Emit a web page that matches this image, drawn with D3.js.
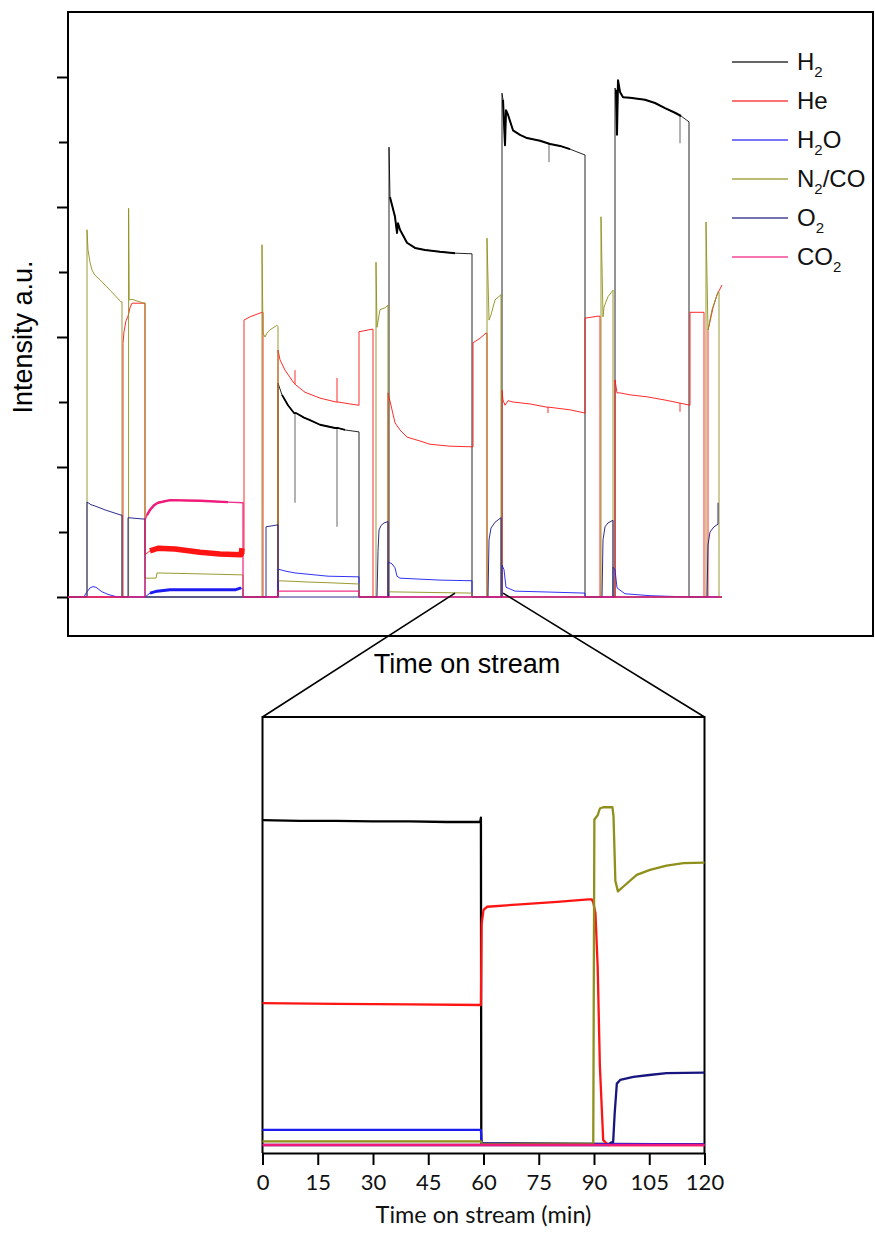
<!DOCTYPE html>
<html>
<head>
<meta charset="utf-8">
<script src="https://cdn.jsdelivr.net/npm/d3@7"></script>
<style>
  body { margin: 0; background: #fff; }
  svg { display: block; }
</style>
</head>
<body>
<svg id="chart" width="875" height="1253"></svg>
<script>
// ---- Full run: time on stream (min) vs. MS intensity (a.u.) ----
const seriesNames = ["H2", "He", "H2O", "N2/CO", "O2", "CO2"];

const h2Run = [[0,0],[525,0],[525,3.29],[535,3.11],[550,2.95],[565,2.83],[570,2.83],[590,2.76],[605,2.72],[630,2.65],[667.5,2.6],[675,2.6],[692.5,2.57],[727.5,2.54],[727.5,0],
  [802.5,0],[802.5,6.92],[805,6.15],[810,6.03],[817.5,5.85],[822.5,5.6],[825,5.75],[830,5.65],[847.5,5.45],[867.5,5.37],[892.5,5.34],[930,5.31],[967.5,5.29],[1010,5.28],[1010,0],
  [1085,0],[1085,7.75],[1087.5,7.65],[1092.5,6.95],[1095,7.49],[1100,7.42],[1112.5,7.18],[1130,7.11],[1147.5,7.06],[1180,7.02],[1205,6.97],[1230,6.94],[1255,6.89],[1292.5,6.8],[1292.5,0],
  [1367.5,0],[1367.5,7.83],[1370,7.8],[1372.5,7.11],[1375,7.95],[1380,7.77],[1387.5,7.69],[1405,7.68],[1442.5,7.65],[1467.5,7.6],[1492.5,7.52],[1517.5,7.45],[1532.5,7.4],[1552.5,7.31],[1552.5,0],[1635,0]];
// short excursions of the H2 trace: [time, value]
const h2Spikes = [[567.5,1.45],[672.5,1.08],[1202.5,6.69],[1530,6.98]];

const heRun = [[0,0],[137.5,0],[137.5,3.9],[140,4.08],[145,4.25],[150,4.32],[155,4.45],[160,4.52],[190,4.52],[192.5,4.52],[192.5,0.65],[205,0.71],[225,0.75],[267.5,0.74],[330,0.69],[380,0.66],[432.5,0.65],[435,0.75],[440,0.66],[440,4.26],[455,4.31],[485,4.38],[487.5,4.38],[487.5,0],
  [525,0],[525,3.8],[530,3.65],[542.5,3.49],[565,3.29],[570,3.26],[592.5,3.15],[630,3.06],[670,3.0],[675,3.0],[705,2.97],[727.5,2.95],[727.5,4.08],[760,4.12],[762.5,4.12],[762.5,0],
  [800,0],[800,3.14],[810,2.88],[817.5,2.68],[830,2.57],[847.5,2.46],[880,2.4],[905,2.35],[955,2.32],[1012.5,2.31],[1012.5,3.91],[1030,3.98],[1045,4.06],[1047.5,4.06],[1047.5,0],
  [1085,0],[1085,3.18],[1087.5,3.03],[1092.5,2.95],[1100,3.02],[1112.5,3.0],[1155,2.97],[1197.5,2.92],[1202.5,2.92],[1255,2.88],[1292.5,2.83],[1292.5,4.29],[1325,4.32],[1330,4.32],[1330,0],
  [1367.5,0],[1367.5,3.34],[1372.5,3.14],[1380,3.14],[1405,3.11],[1447.5,3.08],[1492.5,3.03],[1532.5,2.98],[1555,2.95],[1555,4.38],[1590,4.38],[1590,0],[1600,0],[1600,4.1],[1612.5,4.45],[1622.5,4.65],[1635,4.8]];
const heSpikes = [[567.5,3.49],[672.5,3.37],[1200,2.83],[1530,2.85]];

const h2oRun = [[0,0],[40,0],[45,0.06],[55,0.14],[62.5,0.16],[70,0.15],[85,0.08],[100,0.04],[117.5,0.01],[132.5,0],[192.5,0],[205,0.06],[222.5,0.09],[255,0.11],[330,0.11],[417.5,0.11],[432.5,0.14],[437.5,0.12],[437.5,0],
  [525,0],[525,0.43],[542.5,0.4],[567.5,0.37],[650,0.32],[727.5,0.31],[727.5,0],
  [800,0],[800,0.54],[810,0.51],[817.5,0.45],[822.5,0.32],[830,0.29],[862.5,0.28],[930,0.26],[1010,0.25],[1010,0],
  [1085,0],[1085,0.49],[1090,0.42],[1095,0.15],[1117.5,0.09],[1180,0.08],[1292.5,0.06],[1292.5,0],
  [1362.5,0],[1362.5,0.46],[1367.5,0.42],[1372.5,0.14],[1392.5,0.05],[1455,0.02],[1555,0],[1635,0]];

const n2coRun = [[0,0],[47.5,0],[47.5,5.65],[50,5.34],[55,5.15],[60,5.03],[67.5,4.95],[80,4.88],[105,4.72],[132.5,4.54],[135,4.54],[135,0],
  [151.5,0],[151.5,5.98],[153,4.57],[160,4.58],[175,4.55],[190,4.52],[192.5,4.52],[192.5,0.29],[220,0.29],[222.5,0.37],[300,0.36],[437.5,0.34],[437.5,0],
  [485,0],[485,5.42],[487.5,4.06],[492.5,4.0],[497.5,4.06],[505,4.11],[522.5,4.18],[525,4.16],[525,0.25],[567.5,0.24],[600,0.23],[650,0.22],[727.5,0.2],[727.5,0],
  [770,0],[770,5.15],[772.5,4.15],[780,4.42],[792.5,4.45],[800,4.49],[800,0.08],[1010,0.06],[1010,0],
  [1047.5,0],[1047.5,5.52],[1052.5,4.26],[1057.5,4.34],[1067.5,4.57],[1082.5,4.65],[1082.5,0],
  [1332.5,0],[1332.5,5.85],[1337.5,4.31],[1340,4.46],[1350,4.62],[1362.5,4.72],[1362.5,0],
  [1595,0],[1595,5.77],[1600,4.11],[1610,4.42],[1625,4.69],[1627.5,4.69],[1627.5,0],[1635,0]];

const o2Run = [[0,0],[47.5,0],[47.5,1.46],[57.5,1.42],[67.5,1.4],[92.5,1.34],[132.5,1.26],[135,1.26],[135,0],
  [150,0],[150,1.22],[187.5,1.2],[192.5,1.2],[192.5,0],
  [495,0],[495,1.08],[505,1.09],[525,1.11],[525,0],
  [772.5,0],[775,0.7],[777.5,1.03],[782.5,1.1],[790,1.14],[800,1.16],[800,0],
  [1050,0],[1052.5,0.88],[1057.5,1.06],[1067.5,1.15],[1082.5,1.22],[1082.5,0],
  [1335,0],[1337.5,0.88],[1342.5,1.08],[1350,1.14],[1362.5,1.18],[1362.5,0],
  [1597.5,0],[1600,0.8],[1605,1.0],[1615,1.08],[1625,1.12],[1625,1.45]];

const co2Run = [[0,0],[192.5,0],[192.5,1.18],[197.5,1.26],[205,1.34],[215,1.41],[225,1.45],[255,1.49],[330,1.48],[400,1.46],[437.5,1.45],[437.5,0],
  [525,0],[525,0.09],[727.5,0.09],[727.5,0],[1635,0]];

const runSeries = [h2Run, heRun, h2oRun, n2coRun, o2Run, co2Run];
const runSpikes = [[0, h2Spikes], [1, heSpikes]];

// ---- Detail window (min of run) and its 120 min recording ----
const zoomWindow = [967.5, 1087.5];
const detailTicks = [0, 15, 30, 45, 60, 75, 90, 105, 120];

const h2Detail = [[0,5.29],[10,5.28],[20,5.28],[30,5.27],[40,5.27],[50,5.26],[59.1,5.26],[59.3,5.33],[59.4,0.03],[120,0.01]];
const heDetail = [[0,2.31],[20,2.3],[40,2.29],[59.3,2.28],[59.5,3.6],[60,3.83],[61,3.88],[70,3.92],[80,3.96],[88.5,4.0],[89.4,4.0],[89.8,3.95],[90.4,3.77],[91.0,2.9],[91.6,1.28],[92.5,0.08],[93.9,0],[120,0]];
const h2oDetail = [[0,0.245],[59.3,0.245],[59.5,0.03],[70,0.02],[120,0.01]];
const n2coDetail = [[0,0.06],[59.3,0.06],[59.5,0.02],[89.8,0.02],[90.1,5.3],[91.0,5.37],[91.6,5.48],[92.5,5.5],[95.0,5.5],[95.3,5.35],[95.8,4.3],[96.5,4.13],[98,4.21],[101.6,4.4],[105.2,4.48],[109.7,4.55],[114.3,4.59],[120,4.6]];
const o2Detail = [[0,0],[94.0,0],[94.6,0.04],[95.2,0.05],[95.6,0.5],[96.2,1.0],[97.1,1.06],[100.7,1.11],[105,1.14],[109.7,1.17],[120,1.18]];
const co2Detail = [[0,0],[60,0],[120,0]];

const detailSeries = [h2Detail, heDetail, h2oDetail, n2coDetail, o2Detail, co2Detail];

// ---- Styling ----
const colors = ["#000000", "#ff1414", "#1c1cf0", "#8f8f1c", "#16167e", "#f01a7a"];
const runTicks = [0, 1, 2, 3, 4, 5, 6, 7, 8];
// stretches of the run recorded with a noisier (wider) trace
const wideTraces = [
  { s: 1, from: 195, to: 436, w: 5.5 },
  { s: 2, from: 195, to: 436, w: 3 },
  { s: 5, from: 195, to: 436, w: 2.4 },
  { s: 0, from: 526, to: 727, w: 1.8 },
  { s: 0, from: 804, to: 1009, w: 2 },
  { s: 0, from: 1086, to: 1291, w: 2 },
  { s: 0, from: 1368, to: 1551, w: 2 }
];

const svg = d3.select("#chart");
const sansFont = "'Liberation Sans', Arial, sans-serif";
const tickFont = "Lato, 'Open Sans', sans-serif";

// ---- Main panel ----
const xRun = d3.scaleLinear().domain([0, 2012.5]).range([68, 873]);
const yRun = d3.scaleLinear().domain([-0.6, 9.0]).range([636, 12]);
const runLine = d3.line().x(d => xRun(d[0])).y(d => yRun(d[1]));

const main = svg.append("g");
main.append("rect")
  .attr("x", xRun.range()[0]).attr("y", yRun.range()[1])
  .attr("width", xRun.range()[1] - xRun.range()[0])
  .attr("height", yRun.range()[0] - yRun.range()[1])
  .attr("fill", "none").attr("stroke", "#000").attr("stroke-width", 2);

const yAxis = main.append("g")
  .attr("transform", `translate(${xRun.range()[0]},0)`)
  .call(d3.axisLeft(yRun).tickValues(runTicks).tickFormat("").tickSizeOuter(0));
yAxis.select(".domain").remove();
yAxis.selectAll(".tick line")
  .attr("x2", d => d % 2 === 0 ? -11 : -9)
  .attr("stroke-width", 2);

runSeries.forEach((data, i) => {
  main.append("path").datum(data)
    .attr("d", runLine)
    .attr("fill", "none")
    .attr("stroke", colors[i])
    .attr("stroke-width", i === 5 ? 1.3 : 1)
    .attr("stroke-opacity", i === 0 ? 0.85 : 0.9)
    .attr("stroke-linejoin", "round");
});
wideTraces.forEach(t => {
  const part = runSeries[t.s].filter(d => d[0] >= t.from && d[0] <= t.to);
  main.append("path").datum(part)
    .attr("d", runLine)
    .attr("fill", "none")
    .attr("stroke", colors[t.s])
    .attr("stroke-width", t.w)
    .attr("stroke-linejoin", "round");
});

// thin excursions drawn from the trace level to the spike value
const bisect = d3.bisector(d => d[0]).left;
function traceAt(data, t) {
  const i = Math.max(1, Math.min(data.length - 1, bisect(data, t)));
  const a = data[i - 1], b = data[i];
  return b[0] === a[0] ? b[1] : a[1] + (b[1] - a[1]) * (t - a[0]) / (b[0] - a[0]);
}
runSpikes.forEach(([s, spikes]) => {
  main.selectAll(null).data(spikes).join("line")
    .attr("x1", d => xRun(d[0])).attr("x2", d => xRun(d[0]))
    .attr("y1", d => yRun(traceAt(runSeries[s], d[0])))
    .attr("y2", d => yRun(d[1]))
    .attr("stroke", colors[s])
    .attr("stroke-opacity", s === 0 ? 0.6 : 0.9)
    .attr("stroke-width", 1);
});

main.append("text")
  .attr("x", 467).attr("y", 673)
  .attr("text-anchor", "middle")
  .style("font-family", sansFont).style("font-size", "27px")
  .text("Time on stream");
main.append("text")
  .attr("transform", "translate(32,337) rotate(-90)")
  .attr("text-anchor", "middle")
  .style("font-family", sansFont).style("font-size", "27px")
  .text("Intensity a.u.");

// legend with subscripted formulas
const legendParts = [
  [["H", 0], ["2", 1]],
  [["He", 0]],
  [["H", 0], ["2", 1], ["O", 0]],
  [["N", 0], ["2", 1], ["/CO", 0]],
  [["O", 0], ["2", 1]],
  [["CO", 0], ["2", 1]]
];
const legend = main.append("g");
seriesNames.forEach((name, i) => {
  const ly = 62 + 39 * i;
  legend.append("line")
    .attr("x1", 732).attr("x2", 788).attr("y1", ly).attr("y2", ly)
    .attr("stroke", colors[i]).attr("stroke-width", 1.3).attr("stroke-opacity", 0.8);
  const t = legend.append("text")
    .attr("x", 797).attr("y", ly + 8)
    .style("font-family", sansFont).style("font-size", "24px")
    .attr("fill", "#111");
  let shifted = 0;
  legendParts[i].forEach(([str, sub]) => {
    const dy = sub ? 7 - shifted : -shifted;
    shifted = sub ? 7 : 0;
    t.append("tspan").attr("dy", dy).style("font-size", sub ? "15px" : "24px").text(str);
  });
});

// ---- Detail panel ----
const xDet = d3.scaleLinear().domain([0, 120]).range([262.5, 704.5]);
const yDet = d3.scaleLinear().domain([-0.13, 6.97]).range([1153, 717]);
const detLine = d3.line().x(d => xDet(d[0])).y(d => yDet(d[1]));

const det = svg.append("g");

// guide lines from the run window to the detail panel
const winY = yRun(0.06);
det.append("line")
  .attr("x1", xRun(zoomWindow[0])).attr("y1", winY)
  .attr("x2", xDet.range()[0]).attr("y2", yDet.range()[1])
  .attr("stroke", "#000").attr("stroke-width", 1.6);
det.append("line")
  .attr("x1", xRun(zoomWindow[1])).attr("y1", winY)
  .attr("x2", xDet.range()[1]).attr("y2", yDet.range()[1])
  .attr("stroke", "#000").attr("stroke-width", 1.6);

det.append("path")
  .attr("d", `M${xDet.range()[0]},${yDet.range()[0]}V${yDet.range()[1]}H${xDet.range()[1]}V${yDet.range()[0]}`)
  .attr("fill", "none").attr("stroke", "#000").attr("stroke-width", 2);

detailSeries.forEach((data, i) => {
  det.append("path").datum(data)
    .attr("d", detLine)
    .attr("fill", "none")
    .attr("stroke", colors[i])
    .attr("stroke-width", 2.3)
    .attr("stroke-linejoin", "round");
});

const xAxis = det.append("g")
  .attr("transform", `translate(0,${yDet.range()[0]})`)
  .call(d3.axisBottom(xDet).tickValues(detailTicks).tickSize(12).tickSizeOuter(0).tickPadding(9));
xAxis.select(".domain").attr("stroke-width", 2);
xAxis.selectAll(".tick line").attr("stroke-width", 2);
xAxis.selectAll(".tick text")
  .style("font-family", tickFont)
  .style("font-size", "22px")
  .attr("fill", "#111");

det.append("text")
  .attr("x", (xDet.range()[0] + xDet.range()[1]) / 2).attr("y", 1223)
  .attr("text-anchor", "middle")
  .style("font-family", tickFont).style("font-size", "23.5px")
  .attr("fill", "#111")
  .text("Time on stream (min)");
</script>
</body>
</html>
